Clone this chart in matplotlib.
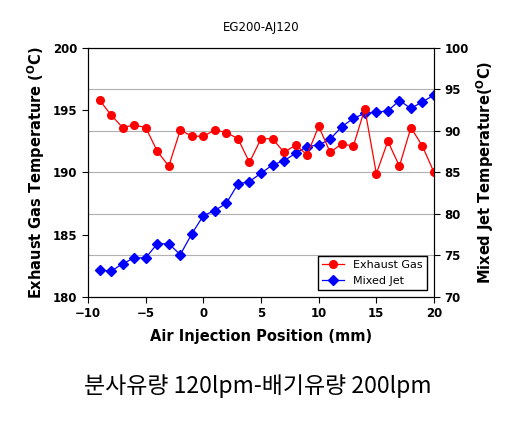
import numpy as np
import matplotlib.pyplot as plt

plt.rcParams['font.family'] = ['DejaVu Sans']

position = list(range(-9, 21))
exhaust_gas = [195.8, 194.6, 193.6, 193.8, 193.6, 191.7, 190.5, 193.4, 192.9, 192.9,
               193.4, 193.2, 192.7, 190.8, 192.7, 192.7, 191.6, 192.2, 191.4, 193.7,
               191.6, 192.3, 192.1, 195.1, 189.9, 192.5, 190.5, 193.6, 192.1, 190.0]
mixed_jet = [73.25, 73.1, 74.0, 74.7, 74.7, 76.4, 76.4, 75.1, 77.6, 79.8,
             80.4, 81.3, 83.6, 83.9, 84.9, 85.9, 86.4, 87.3, 88.1, 88.3,
             89.0, 90.5, 91.5, 92.1, 92.25, 92.4, 93.65, 92.7, 93.5, 94.3]

fig = plt.figure(figsize=(5.21, 4.23), dpi=100)
ax = fig.add_axes([0.169, 0.298, 0.664, 0.589])
ax2 = ax.twinx()
# red series axis on top, grid lives on the back axis
ax.set_zorder(ax2.get_zorder() + 1)
ax.patch.set_visible(False)

l1, = ax.plot(position, exhaust_gas, color='#ff0000', marker='o', markersize=5.5,
              linewidth=0.9, label='Exhaust Gas')
l2, = ax2.plot(position, mixed_jet, color='#0000ff', marker='D', markersize=5,
               linewidth=0.9, label='Mixed Jet')

ax.set_xlim(-10, 20)
ax.set_ylim(180, 200)
ax2.set_ylim(70, 100)
ax.set_xticks(range(-10, 21, 5))
ax.set_yticks(range(180, 201, 5))
ax2.set_yticks(range(70, 101, 5))
ax2.grid(True, color='#b0b0b0', linewidth=0.8)
ax2.set_axisbelow(True)

for a in (ax, ax2):
    a.tick_params(labelsize=8.5, direction='out', length=4)
    for t in a.get_xticklabels() + a.get_yticklabels():
        t.set_fontweight('bold')

ax.set_xlabel('Air Injection Position (mm)', fontsize=10.5, fontweight='bold', labelpad=6)
ax.set_ylabel('Exhaust Gas Temperature ($^{\\mathregular{O}}$C)', fontsize=10.5, fontweight='bold')
ax2.set_ylabel('Mixed Jet Temperature($^{\\mathregular{O}}$C)', fontsize=10.5, fontweight='bold')
ax.set_title('EG200-AJ120', fontsize=8.5, pad=12)

leg = ax.legend(handles=[l1, l2], loc='lower right', fontsize=8, fancybox=False,
                edgecolor='black', framealpha=1, borderaxespad=0.6)
leg.get_frame().set_linewidth(1.0)

fig.text(0.495, 0.072, '분사유량 120lpm-배기유량 200lpm', ha='center', fontsize=16.5,
         family=['Noto Sans CJK KR', 'DejaVu Sans'])

fig.savefig('out.png', dpi=100)
